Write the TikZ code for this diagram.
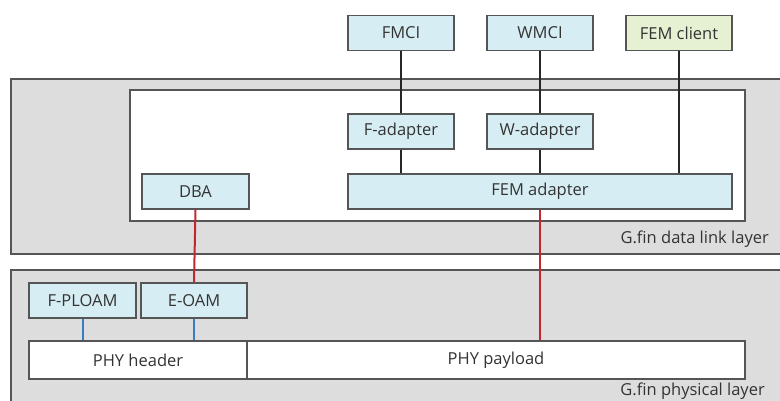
\documentclass[tikz,border=0pt]{standalone}
\usepackage{fontspec}
\setmainfont{Open Sans}
\definecolor{boxfill}{HTML}{D6EEF3}
\definecolor{greenfill}{HTML}{E6F1D3}
\definecolor{layergrey}{HTML}{DDDDDD}
\definecolor{edge}{HTML}{555555}
\definecolor{txt}{HTML}{333333}
\definecolor{redline}{HTML}{C0282D}
\definecolor{blueline}{HTML}{3A7CC0}
\begin{document}
\begin{tikzpicture}[x=1pt,y=-1pt,
  blk/.style={draw=edge,line width=1.4pt,fill=boxfill,inner sep=0pt,minimum height=35pt,text=txt,font=\fontsize{16.5}{18}\selectfont},
  plain/.style={draw=edge,line width=1.2pt,fill=white,inner sep=0pt,minimum height=38pt,text=txt,font=\fontsize{16.5}{18}\selectfont},
  layer/.style={draw=edge,line width=1.5pt,fill=layergrey},
  lbl/.style={text=txt,font=\fontsize{16.5}{18}\selectfont,inner sep=0pt,anchor=east},
  conn/.style={line width=2pt,black!85},
  redconn/.style={line width=2pt,redline},
  blueconn/.style={line width=2pt,blueline}]
\useasboundingbox (0,0) rectangle (780,401);
\clip (0,0) rectangle (780,401);
% layers
\draw[layer] (11,79) rectangle (795,254);
\draw[layer] (11,270) rectangle (795,420);
\draw[draw=edge,line width=1.4pt,fill=white] (130,90) rectangle (745,221);
% top nodes
\node[blk,minimum width=106pt] (fmci) at (401,33) {FMCI};
\node[blk,minimum width=106pt] (wmci) at (540,33) {WMCI};
\node[blk,minimum width=106pt,fill=greenfill] (femc) at (679,33) {FEM client};
\node[blk,minimum width=106pt] (fad) at (401,131.5) {F-adapter};
\node[blk,minimum width=106pt] (wad) at (540,131.5) {W-adapter};
\node[blk,minimum width=107pt] (dba) at (195.5,191.5) {DBA};
\node[blk,minimum width=384pt] (fema) at (540,191.5) {FEM adapter};
\node[blk,minimum width=107pt] (fploam) at (82.5,300.5) {F-PLOAM};
\node[blk,minimum width=106pt] (eoam) at (194,300.5) {E-OAM};
\node[plain,minimum width=218pt] (phyh) at (138,360) {PHY header};
\node[plain,minimum width=498pt] (phyp) at (496,360) {PHY payload};
\node[lbl] (dll) at (769,239) {G.fin data link layer};
\node[lbl] (phl) at (765,391) {G.fin physical layer};
% connectors
\draw[conn] (fmci.south) -- (fad.north);
\draw[conn] (wmci.south) -- (wad.north);
\draw[conn] (fad.south) -- (fad.south |- fema.north);
\draw[conn] (wad.south) -- (wad.south |- fema.north);
\draw[conn] (femc.south) -- (femc.south |- fema.north);
\draw[redconn] (dba.south) -- (eoam.north);
\draw[redconn] (wad.south |- fema.south) -- (wad.south |- phyp.north);
\draw[blueconn] (fploam.south) -- (fploam.south |- phyh.north);
\draw[blueconn] (eoam.south) -- (eoam.south |- phyh.north);
\end{tikzpicture}
\end{document}
